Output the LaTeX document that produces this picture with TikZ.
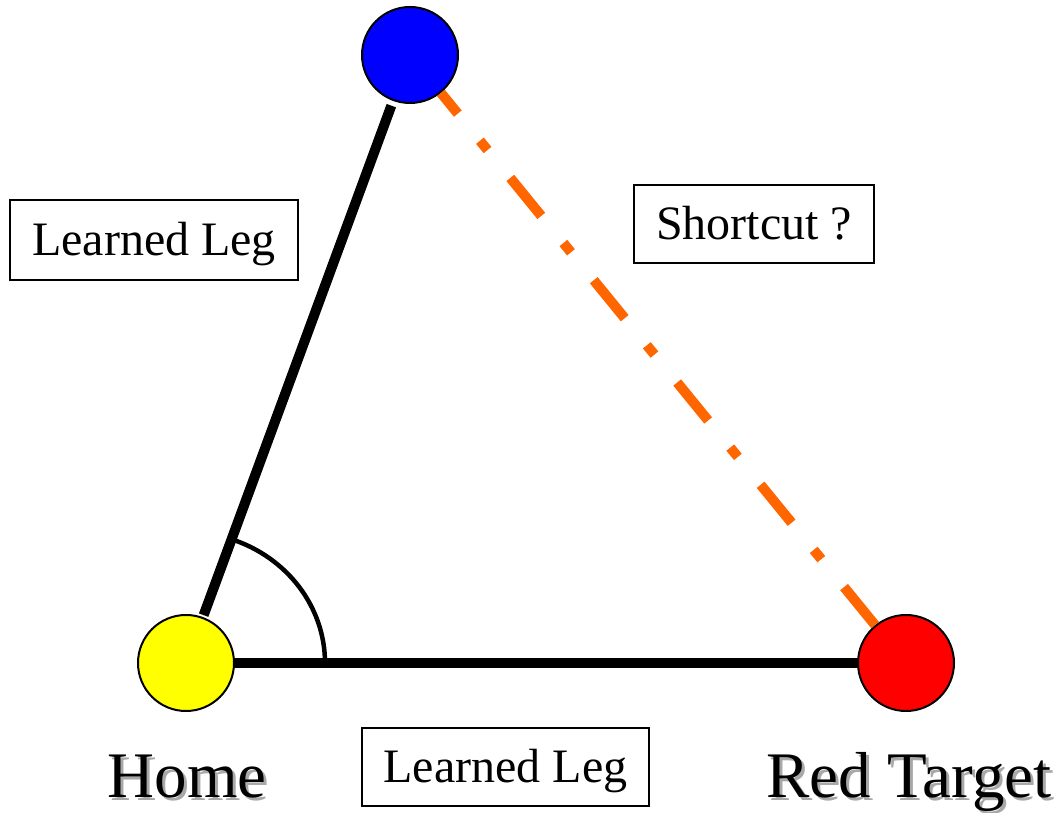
\documentclass[tikz,border=0pt]{standalone}
\usepackage{fontspec}
\setmainfont{Liberation Serif}
\usetikzlibrary{calc}

\begin{document}
\begin{tikzpicture}[x=1pt, y=1pt,
    spot/.style={circle, draw=black, line width=2pt, minimum size=96pt, inner sep=0pt},
    legline/.style={line width=10pt},
    shortcutline/.style={line width=10pt, draw=shortcutColour, dash pattern=on 49pt off 36pt on 12pt off 35pt},
    textbox/.style={draw=black, line width=2.5pt, inner sep=0pt, font=\fontsize{48}{57}\selectfont, text height=32pt, text depth=0pt},
    biglabel/.style={anchor=base, inner sep=0pt, font=\fontsize{65}{78}\selectfont}]
    % Define picture size
    \def\picWidth{1057}
    \def\picHeight{813}
    \useasboundingbox (0,0) rectangle (\picWidth,\picHeight);

    \definecolor{homeColour}{HTML}{FFFF00}
    \definecolor{turnColour}{HTML}{0000FF}
    \definecolor{targetColour}{HTML}{FF0000}
    \definecolor{shortcutColour}{HTML}{FF6600}
    \definecolor{shadowColour}{HTML}{A8A8A8}

    % Draw the three spots
    \node[spot, fill=homeColour] (home) at (186,150) {};
    \node[spot, fill=turnColour] (turn) at (410,758) {};
    \node[spot, fill=targetColour] (target) at (906,150) {};

    % Draw learned legs and shortcut
    \draw[legline, shorten <=2pt, shorten >=5pt] (home) -- (turn);
    \draw[legline] (home) -- (target);
    \draw[shortcutline] (target) -- (turn);

    % Draw angle at home
    \draw[line width=4.5pt] ($(home.center)+(139,0)$) arc[start angle=0, end angle=70.9, x radius=139, y radius=131];

    % Label boxes
    \node[textbox, minimum width=288pt, minimum height=80pt] (legA) at (154,573) {Learned Leg};
    \node[textbox, minimum width=240pt, minimum height=78pt] (shortcut) at (754,589) {Shortcut ?};
    \node[textbox, minimum width=287pt, minimum height=78pt] (legB) at (505.5,46) {Learned Leg};

    % Spot names with shadow
    \node[biglabel, text=shadowColour] (homeshadow) at (190,12) {Home};
    \node[biglabel] (homelabel) at (187,15) {Home};
    \node[biglabel, text=shadowColour] (targetshadow) at (912,12) {Red Target};
    \node[biglabel] (targetlabel) at (909,15) {Red Target};

\end{tikzpicture}
\end{document}
